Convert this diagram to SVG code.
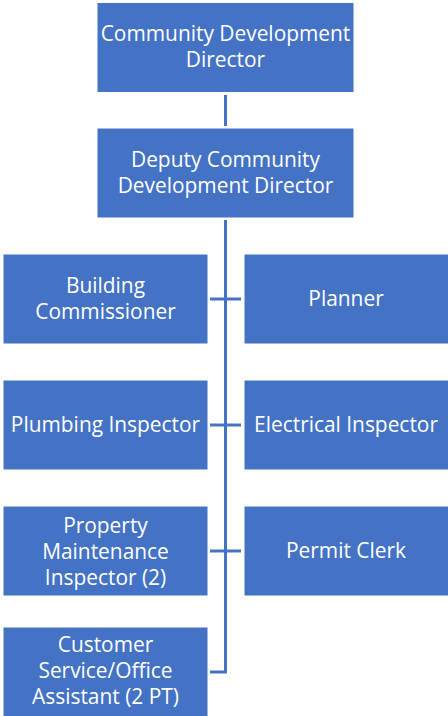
<svg xmlns="http://www.w3.org/2000/svg" width="448" height="716" viewBox="0 0 448 716">
<style>
.box{fill:#4472C4;stroke:#ffffff;stroke-width:1}
.t{font-family:"Open Sans","Noto Sans",sans-serif;font-size:20.9px;fill:#ffffff;text-anchor:middle}
.c{stroke:#4472C4;stroke-width:3;fill:none}
</style>
<rect width="448" height="716" fill="#ffffff"/>
<g id="connectors">
<line class="c" x1="225.5" y1="95" x2="225.5" y2="126"/>
<polyline class="c" points="225.5,220 225.5,672 210,672"/>
<line class="c" x1="210" y1="299" x2="241" y2="299"/>
<line class="c" x1="210" y1="425" x2="241" y2="425"/>
<line class="c" x1="210" y1="551" x2="241" y2="551"/>
</g>
<g id="n1"><rect class="box" x="97" y="2.5" width="257" height="90"/>
<text class="t" x="225.5" y="41">Community Development</text><text class="t" x="225.5" y="67">Director</text></g>
<g id="n2"><rect class="box" x="97" y="128" width="257" height="90"/>
<text class="t" x="225.5" y="167">Deputy Community</text><text class="t" x="225.5" y="193">Development Director</text></g>
<g id="n3"><rect class="box" x="3" y="254" width="205" height="90"/>
<text class="t" x="105.5" y="293">Building</text><text class="t" x="105.5" y="319">Commissioner</text></g>
<g id="n4"><rect class="box" x="244" y="254" width="205" height="90"/>
<text class="t" x="346" y="306">Planner</text></g>
<g id="n5"><rect class="box" x="3" y="380" width="205" height="90"/>
<text class="t" x="105.5" y="432">Plumbing Inspector</text></g>
<g id="n6"><rect class="box" x="244" y="380" width="205" height="90"/>
<text class="t" x="346" y="432">Electrical Inspector</text></g>
<g id="n7"><rect class="box" x="3" y="506" width="205" height="90"/>
<text class="t" x="105.5" y="533">Property</text><text class="t" x="105.5" y="559">Maintenance</text><text class="t" x="105.5" y="585">Inspector (2)</text></g>
<g id="n8"><rect class="box" x="244" y="506" width="205" height="90"/>
<text class="t" x="346" y="558">Permit Clerk</text></g>
<g id="n9"><rect class="box" x="3" y="627" width="205" height="90"/>
<text class="t" x="105.5" y="652">Customer</text><text class="t" x="105.5" y="678">Service/Office</text><text class="t" x="105.5" y="704">Assistant (2 PT)</text></g>
</svg>
